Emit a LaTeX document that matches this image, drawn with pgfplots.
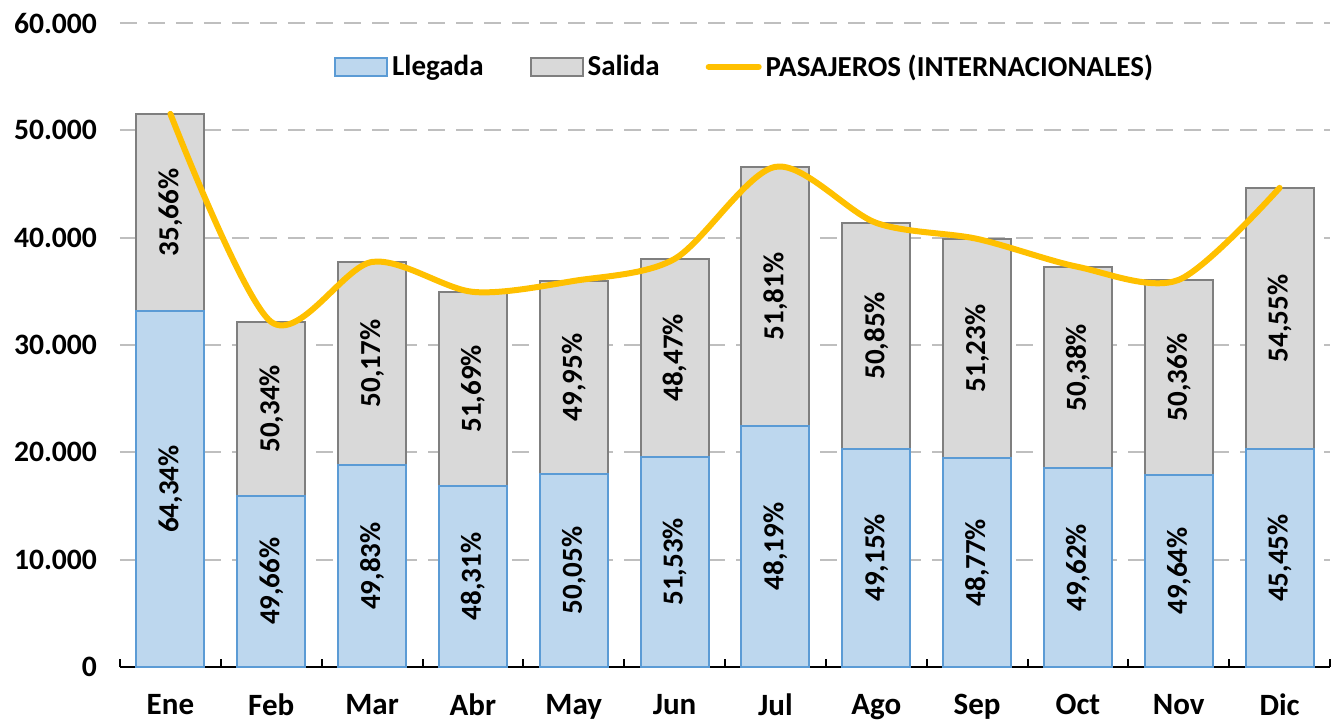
\documentclass[border=0pt]{standalone}
\usepackage{pgfplots}
\pgfplotsset{compat=1.18}
\usepackage{pgfplotstable}
\usepackage{fontspec}
\setmainfont{Carlito}
\definecolor{bfill}{HTML}{BDD7EE}
\definecolor{bdraw}{HTML}{5B9BD5}
\definecolor{gfill}{HTML}{D9D9D9}
\definecolor{gdraw}{HTML}{7F7F7F}
\definecolor{yel}{HTML}{FFC000}
\definecolor{grd}{HTML}{BFBFBF}
\pgfplotstableread{
x tot ll sm lm pl ps
0 51530 33160 42345 16580 64.34 35.66
1 32150 15970 24060 7985 49.66 50.34
2 37740 18810 28275 9405 49.83 50.17
3 34950 16880 25915 8440 48.31 51.69
4 35970 18000 26985 9000 50.05 49.95
5 38020 19590 28805 9795 51.53 48.47
6 46600 22460 34530 11230 48.19 51.81
7 41380 20340 30860 10170 49.15 50.85
8 39890 19450 29670 9725 48.77 51.23
9 37280 18500 27890 9250 49.62 50.38
10 36070 17900 26985 8950 49.64 50.36
11 44640 20290 32465 10145 45.45 54.55
}\data
\begin{document}
\begin{tikzpicture}
\begin{axis}[
  name=ax, at={(0,0)}, anchor=south west,
  scale only axis, width=605pt, height=322pt,
  xmin=-0.5, xmax=11.5, ymin=0, ymax=60000,
  clip=false,
  axis lines*=left,
  y axis line style={draw=none},
  x axis line style={draw=black, line width=1pt},
  ytick={0,10000,...,60000},
  ytick style={draw=none},
  ymajorgrids,
  major grid style={draw=grd, line width=1pt, dash pattern=on 8.5pt off 5.5pt},
  xtick={0,...,11},
  xticklabels={Ene,Feb,Mar,Abr,May,Jun,Jul,Ago,Sep,Oct,Nov,Dic},
  major x tick style={draw=none},
  minor xtick={-0.5,0.5,...,11.5},
  minor tick length=4pt,
  minor x tick style={draw=black, line width=1pt},
  tick align=inside,
  /pgf/number format/assume math mode=true,
  /pgf/number format/1000 sep={.},
  scaled y ticks=false,
  yticklabel style={font=\bfseries\fontsize{14.8}{15}\selectfont, xshift=-8pt},
  xticklabel style={font=\bfseries\fontsize{15.5}{16}\selectfont, yshift=-10pt},
  legend style={at={(0.517,0.932)}, anchor=center, legend columns=-1, draw=none,
    font=\bfseries\fontsize{14.5}{15}\selectfont,
    /tikz/every even column/.append style={column sep=21pt}},
]
\addlegendimage{legend image code/.code={\draw[fill=bfill,draw=bdraw,line width=1pt] (0pt,-4.5pt) rectangle (26pt,4.5pt);}}
\addlegendentry{Llegada}
\addlegendimage{legend image code/.code={\draw[fill=gfill,draw=gdraw,line width=1pt] (0pt,-4.5pt) rectangle (26pt,4.5pt);}}
\addlegendentry{Salida}
\addlegendimage{legend image code/.code={\draw[yel,line width=3pt,line cap=round] (1.5pt,0pt) -- (26.5pt,0pt);}}
\addlegendentry{PASAJEROS (INTERNACIONALES)}

\addplot[ybar, bar width=34pt, bar shift=0pt, fill=gfill, draw=gdraw, line width=1pt, forget plot] table[x=x,y=tot]{\data};
\addplot[ybar, bar width=34pt, bar shift=0pt, fill=bfill, draw=bdraw, line width=1pt, forget plot] table[x=x,y=ll]{\data};
\addplot[smooth, color=yel, line width=3pt, line cap=round, forget plot] table[x=x,y=tot]{\data};
\addplot[draw=none, mark=none, forget plot, point meta=explicit,
  nodes near coords={\pgfmathprintnumber[fixed,fixed zerofill,precision=2,use comma]{\pgfplotspointmeta}\%},
  nodes near coords style={rotate=90, anchor=center, font=\bfseries\fontsize{14.5}{15}\selectfont, text=black}]
  table[x=x,y=lm,meta=pl]{\data};
\addplot[draw=none, mark=none, forget plot, point meta=explicit,
  nodes near coords={\pgfmathprintnumber[fixed,fixed zerofill,precision=2,use comma]{\pgfplotspointmeta}\%},
  nodes near coords style={rotate=90, anchor=center, font=\bfseries\fontsize{14.5}{15}\selectfont, text=black}]
  table[x=x,y=sm,meta=ps]{\data};
\end{axis}
\pgfresetboundingbox
\path[use as bounding box] (-60pt,-27.5pt) rectangle (609.5pt,333.5pt);
\end{tikzpicture}
\end{document}
